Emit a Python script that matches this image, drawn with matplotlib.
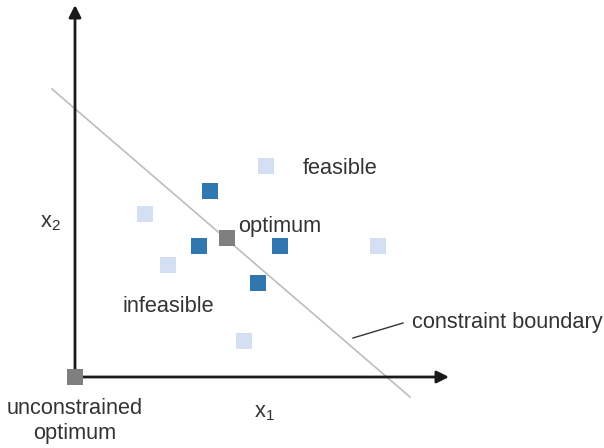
import matplotlib
matplotlib.use("Agg")
import matplotlib.pyplot as plt

plt.rcParams['font.family'] = ['Liberation Sans', 'DejaVu Sans']
plt.rcParams['mathtext.default'] = 'regular'

# Design points (units: pixels from the origin of the sketch)
light_x = [191, 70, 93, 303, 169]
light_y = [211, 163, 112, 131, 36]
dark_x = [135, 124, 205, 183]
dark_y = [186, 131, 131, 94]
optimum = (152, 139)
unconstrained = (0, 0)

# constraint boundary endpoints
boundary_x = [-23, 335]
boundary_y = [288, -20]
leader_x = [278, 328]
leader_y = [39, 54]

text_color = '#333333'

fig = plt.figure(figsize=(6.04, 4.48), dpi=100)
ax = fig.add_axes([0, 0, 1, 1])
ax.set_xlim(-75, 529)
ax.set_ylim(-71, 377)
ax.axis('off')

# axes arrows
arrow = dict(arrowstyle='-|>', color='#1a1a1a', lw=2, mutation_scale=18, shrinkA=0, shrinkB=0)
ax.annotate('', xy=(374, 0), xytext=(0, 0), arrowprops=arrow)
ax.annotate('', xy=(0, 372), xytext=(0, 0), arrowprops=arrow)

ax.plot(boundary_x, boundary_y, color='#bdbdbd', lw=1.2, zorder=1)
ax.plot(leader_x, leader_y, color='#333333', lw=1, zorder=1)

ms = 11 ** 2
ax.scatter(light_x, light_y, marker='s', s=ms, color='#d4dff3', lw=0, zorder=3)
ax.scatter(dark_x, dark_y, marker='s', s=ms, color='#2f77ae', lw=0, zorder=3)
ax.scatter([optimum[0], unconstrained[0]], [optimum[1], unconstrained[1]],
           marker='s', s=ms, color='#7f7f7f', lw=0, zorder=4)

fs = 15.7
ax.text(265, 209, 'feasible', fontsize=fs, color=text_color, ha='center', va='center')
ax.text(163, 151, 'optimum', fontsize=fs, color=text_color, ha='left', va='center')
ax.text(93, 71, 'infeasible', fontsize=fs, color=text_color, ha='center', va='center')
ax.text(337, 55, 'constraint boundary', fontsize=fs, color=text_color, ha='left', va='center')
ax.text(0, -44, 'unconstrained\noptimum', fontsize=fs, color=text_color, ha='center',
        va='center', linespacing=1.2)
ax.text(-25, 155, 'x$_2$', fontsize=fs, color=text_color, ha='center', va='center')
ax.text(189, -35, 'x$_1$', fontsize=fs, color=text_color, ha='center', va='center')

fig.savefig('out.png', dpi=100)
